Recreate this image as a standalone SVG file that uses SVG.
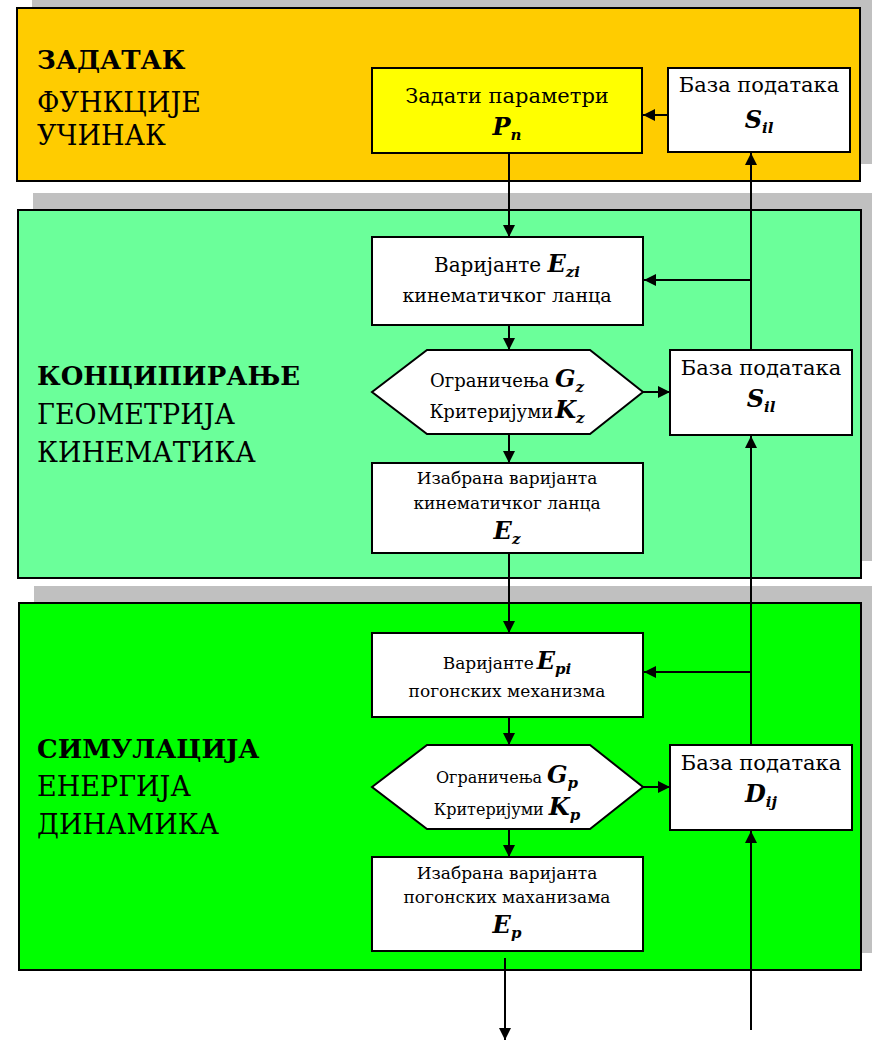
<svg xmlns="http://www.w3.org/2000/svg" width="872" height="1041" viewBox="0 0 872 1041">
<defs>
<style>
text{font-family:'DejaVu Serif','Liberation Serif',serif;fill:#000}
.t{font-size:20px;text-anchor:middle}
.t21{font-size:21px;text-anchor:middle}
.t19{font-size:19px;text-anchor:middle}
.tz{font-size:17px;text-anchor:middle}
.ts{font-size:18px;text-anchor:middle}
.tp{font-size:17px;text-anchor:middle}
.tx{font-size:16px;text-anchor:middle}
.db{font-size:21px;text-anchor:middle}
.m{font-weight:bold;font-style:italic;font-size:24px}
.s{font-weight:bold;font-style:italic;font-size:15px}
.h{font-size:26px;font-weight:bold}
.l{font-size:27px}
.panel{stroke:#000;stroke-width:2}
.shadow{fill:#c0c0c0}
.node{fill:#fff;stroke:#000;stroke-width:2}
.c line{stroke:#000;stroke-width:2}
.c .a{marker-end:url(#arr)}
</style>
<marker id="arr" markerUnits="userSpaceOnUse" markerWidth="12" markerHeight="12" refX="12" refY="6" orient="auto">
<path d="M0,0 L12,6 L0,12 z" fill="#000"/>
</marker>
</defs>

<g id="panel-zadatak">
<rect class="shadow" x="32" y="-9" width="850" height="173"/>
<rect class="panel" x="17" y="8" width="843" height="173" fill="#ffcc00"/>
<text class="h" x="37" y="69">ЗАДАТАК</text>
<text class="l" x="37" y="112">ФУНКЦИЈЕ</text>
<text class="l" x="37" y="145">УЧИНАК</text>
</g>

<g id="panel-koncipiranje">
<rect class="shadow" x="33" y="193" width="850" height="368"/>
<rect class="panel" x="18" y="210" width="843" height="368" fill="#6bff9a"/>
<text class="h" x="37" y="385">КОНЦИПИРАЊЕ</text>
<text class="l" x="37" y="424">ГЕОМЕТРИЈА</text>
<text class="l" x="37" y="462">КИНЕМАТИКА</text>
</g>

<g id="panel-simulacija">
<rect class="shadow" x="34" y="586" width="850" height="367"/>
<rect class="panel" x="19" y="603" width="842" height="367" fill="#00ff00"/>
<text class="h" x="37" y="758">СИМУЛАЦИЈА</text>
<text class="l" x="37" y="796">ЕНЕРГИЈА</text>
<text class="l" x="37" y="834">ДИНАМИКА</text>
</g>

<g id="node-zadati">
<rect x="372" y="68" width="270" height="85" fill="#ffff00" stroke="#000" stroke-width="2"/>
<text class="t21" x="507" y="103">Задати параметри</text>
<text class="t" x="507" y="135"><tspan class="m">P</tspan><tspan class="s" dy="5">n</tspan></text>
</g>

<g id="node-baza1">
<rect class="node" x="668" y="68" width="182" height="84"/>
<text class="db" x="759" y="92">База података</text>
<text class="t" x="759" y="128"><tspan class="m">S</tspan><tspan class="s" dy="5">il</tspan></text>
</g>

<g id="node-varijante-z">
<rect class="node" x="372" y="237" width="271" height="88"/>
<text class="t" x="507" y="272">Варијанте <tspan class="m">E</tspan><tspan class="s" dy="5">zi</tspan></text>
<text class="t19" x="507" y="302">кинематичког ланца</text>
</g>

<g id="node-ogranicenja-z">
<polygon class="node" points="372,392 427,350 590,350 643,392 590,434 427,434"/>
<text class="ts" x="507" y="387">Ограничења <tspan class="m">G</tspan><tspan class="s" dy="5">z</tspan></text>
<text class="ts" x="507" y="418">Критеријуми<tspan class="m" dx="2">K</tspan><tspan class="s" dy="5">z</tspan></text>
</g>

<g id="node-izabrana-z">
<rect class="node" x="372" y="463" width="271" height="90"/>
<text class="tz" x="507" y="484">Изабрана варијанта</text>
<text class="tz" x="507" y="509">кинематичког ланца</text>
<text class="t" x="507" y="539"><tspan class="m">E</tspan><tspan class="s" dy="5">z</tspan></text>
</g>

<g id="node-baza2">
<rect class="node" x="670" y="350" width="182" height="85"/>
<text class="db" x="761" y="375">База података</text>
<text class="t" x="761" y="407"><tspan class="m">S</tspan><tspan class="s" dy="5">il</tspan></text>
</g>

<g id="node-varijante-p">
<rect class="node" x="372" y="633" width="271" height="84"/>
<text class="tp" x="507" y="669">Варијанте<tspan class="m" dx="3">E</tspan><tspan class="s" dy="5">pi</tspan></text>
<text class="tp" x="507" y="697">погонских механизма</text>
</g>

<g id="node-ogranicenja-p">
<polygon class="node" points="372,787 427,745 590,745 643,787 590,829 427,829"/>
<text class="tx" x="507" y="783">Ограничења <tspan class="m">G</tspan><tspan class="s" dy="5">p</tspan></text>
<text class="tx" x="507" y="815">Критеријуми <tspan class="m">K</tspan><tspan class="s" dy="5">p</tspan></text>
</g>

<g id="node-izabrana-p">
<rect class="node" x="372" y="857" width="271" height="94"/>
<text class="tz" x="507" y="879">Изабрана варијанта</text>
<text class="tz" x="507" y="903">погонских маханизама</text>
<text class="t" x="507" y="933"><tspan class="m">E</tspan><tspan class="s" dy="5">p</tspan></text>
</g>

<g id="node-baza3">
<rect class="node" x="670" y="745" width="182" height="85"/>
<text class="db" x="761" y="770">База података</text>
<text class="t" x="761" y="802"><tspan class="m">D</tspan><tspan class="s" dy="5">ij</tspan></text>
</g>

<g id="connectors" class="c">
<line class="a" x1="668" y1="115" x2="643" y2="115"/>
<line class="a" x1="509" y1="153" x2="509" y2="237"/>
<line class="a" x1="751" y1="350" x2="751" y2="153"/>
<line class="a" x1="751" y1="280" x2="644" y2="280"/>
<line class="a" x1="509" y1="325" x2="509" y2="350"/>
<line class="a" x1="643" y1="392" x2="670" y2="392"/>
<line class="a" x1="509" y1="434" x2="509" y2="463"/>
<line class="a" x1="509" y1="553" x2="509" y2="633"/>
<line class="a" x1="751" y1="745" x2="751" y2="436"/>
<line class="a" x1="751" y1="672" x2="644" y2="672"/>
<line class="a" x1="509" y1="717" x2="509" y2="745"/>
<line class="a" x1="643" y1="787" x2="670" y2="787"/>
<line class="a" x1="509" y1="829" x2="509" y2="857"/>
<line class="a" x1="505" y1="958" x2="505" y2="1040"/>
<line class="a" x1="751" y1="1030" x2="751" y2="831"/>
</g>
</svg>
